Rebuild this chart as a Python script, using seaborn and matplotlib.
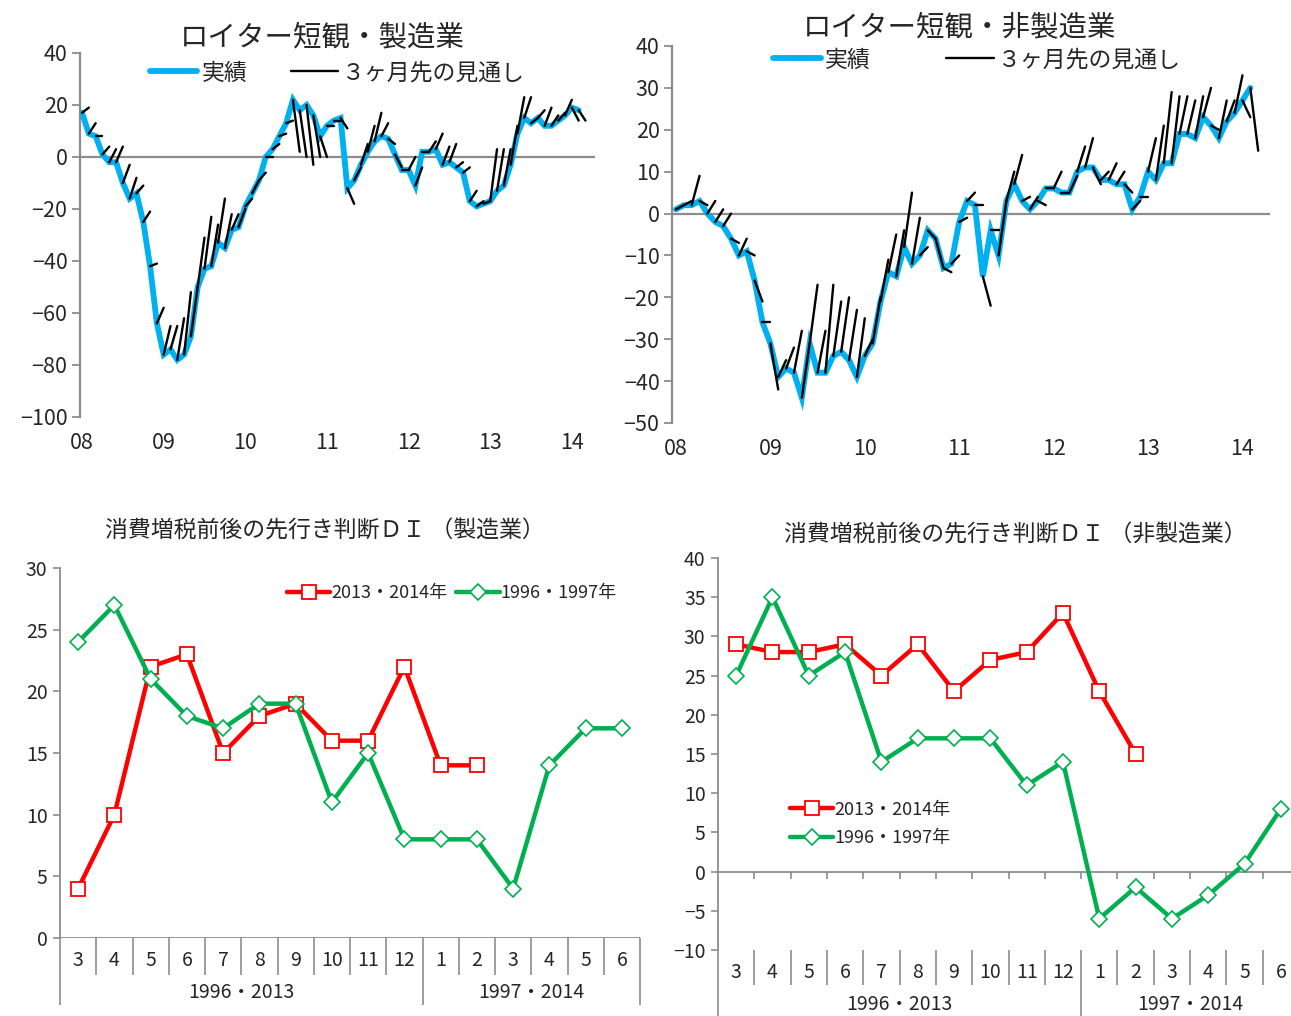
import numpy as np
import pandas as pd
import matplotlib
matplotlib.use("Agg")
import matplotlib.pyplot as plt
from matplotlib.lines import Line2D
from matplotlib import font_manager
import seaborn as sns

# ---------------- data ----------------
year_labels = ["08", "09", "10", "11", "12", "13", "14"]

mfg_actual = [17, 9, 8, 1, -2, -2, -10, -16, -14, -25, -42, -64,
              -76, -74, -78, -76, -69, -50, -43, -42, -33, -35, -28, -27,
              -19, -14, -9, 0, 3, 8, 13, 22, 18, 20, 16, 8,
              12, 14, 15, -12, -9, -3, 2, 6, 8, 7, 1, -5,
              -5, -11, 2, 2, 3, -3, -2, -4, -6, -17, -19, -18,
              -17, -13, -11, -3, 9, 15, 13, 15, 12, 12, 14, 16,
              19, 18]
mfg_outlook = [19, 13, 8, 4, 3, 4, -3, -8, -11, -21, -41, -58,
               -65, -65, -62, -52, -50, -31, -23, -26, -16, -22, -22, -20,
               -16, -9, -6, 0, 5, 9, 14, 2, 0, -3, 0, 0,
               12, 14, 11, -18, -4, 5, 12, 17, 13, 5, -4, -5,
               0, -4, 2, 6, 9, 4, 5, -2, -4, -13, -17, -17,
               3, 3, 3, 12, 23, 23, 15, 18, 19, 16, 17, 22,
               14, 14]

nonmfg_actual = [1, 2, 2, 3, 0, -2, -3, -6, -10, -9, -16, -26,
                 -31, -39, -37, -38, -44, -31, -38, -38, -34, -33, -35, -39,
                 -34, -31, -21, -14, -15, -8, -12, -10, -4, -6, -13, -12,
                 -2, 3, 2, -15, -4, -10, 3, 7, 3, 1, 3, 6,
                 6, 5, 5, 10, 11, 11, 8, 8, 7, 7, 1, 4,
                 10, 8, 12, 12, 19, 19, 18, 23, 21, 18, 22, 24,
                 27, 30]
nonmfg_outlook = [2, 3, 9, 2, 3, 1, 0, -7, -6, -10, -21, -26,
                  -42, -35, -32, -28, -31, -17, -28, -17, -21, -20, -23, -25,
                  -30, -20, -11, -5, -4, 5, -1, -8, -6, -13, -14, -10,
                  -1, 5, 2, -22, -4, 3, 10, 14, 4, 4, 2, 6,
                  10, 5, 9, 16, 18, 7, 10, 12, 10, 5, 3, 4,
                  18, 21, 29, 28, 28, 27, 28, 30, 20, 27, 27, 33,
                  23, 15]

month_labels = ["3", "4", "5", "6", "7", "8", "9", "10", "11", "12",
                "1", "2", "3", "4", "5", "6"]
group_labels = ["1996・2013", "1997・2014"]
group_sizes = [10, 6]
series_names = ["2013・2014年", "1996・1997年"]

mfg_2013 = [4, 10, 22, 23, 15, 18, 19, 16, 16, 22, 14, 14,
            None, None, None, None]
mfg_1996 = [24, 27, 21, 18, 17, 19, 19, 11, 15, 8, 8, 8, 4, 14, 17, 17]
non_2013 = [29, 28, 28, 29, 25, 29, 23, 27, 28, 33, 23, 15,
            None, None, None, None]
non_1996 = [25, 35, 25, 28, 14, 17, 17, 17, 11, 14, -6, -2, -6, -3, 1, 8]

# ---------------- style ----------------
sns.set_theme(style="white")
names = {f.name for f in font_manager.fontManager.ttflist}
CJK = "Noto Sans CJK JP"
narrow = None
for cand in ["Liberation Sans Narrow", "DejaVu Sans Condensed"]:
    if cand in names:
        narrow = cand
        break
plt.rcParams["font.family"] = [CJK, "DejaVu Sans"]
NARROW_FAM = [narrow, CJK] if narrow else [CJK]

BLUE = "#00B0F0"
RED = "#FF0000"
GREEN = "#00B050"
GRAY = "#8C8C8C"

W, H = 1291, 1016
fig = plt.figure(figsize=(W / 100, H / 100), dpi=100)


def px_axes(l, t, r, b):
    return fig.add_axes([l / W, 1 - b / H, (r - l) / W, (b - t) / H])


def top_chart(ax, actual, outlook, ylim, ystep):
    actual = np.asarray(actual, float)
    outlook = np.asarray(outlook, float)
    n = len(actual)
    months = np.arange(n)
    df = pd.DataFrame({"m": months, "v": actual})
    seg = pd.DataFrame({
        "m": np.concatenate([months, months + 1]),
        "v": np.concatenate([actual, outlook]),
        "seg": np.concatenate([months, months]),
    })
    ax.axhline(0, color=GRAY, lw=1.6, zorder=1)
    sns.lineplot(data=df, x="m", y="v", color=BLUE, lw=4.2, ax=ax,
                 zorder=3, solid_joinstyle="miter")
    sns.lineplot(data=seg, x="m", y="v", units="seg", estimator=None,
                 color="black", lw=1.7, ax=ax, zorder=4, legend=False,
                 sort=False)
    ax.set_ylim(*ylim)
    ax.set_yticks(np.arange(ylim[0], ylim[1] + 1, ystep))
    ax.set_xticks(np.arange(len(year_labels)) * 12)
    ax.set_xticklabels(year_labels)
    ax.set_xlabel("")
    ax.set_ylabel("")
    for s in ["top", "right", "bottom"]:
        ax.spines[s].set_visible(False)
    ax.spines["left"].set_color(GRAY)
    ax.spines["left"].set_linewidth(1.6)
    ax.tick_params(axis="y", direction="out", length=6, width=1.3,
                   color=GRAY, labelsize=15.5, pad=3, left=True)
    ax.tick_params(axis="x", length=0, labelsize=15.5, pad=11)


# ---- top-left
ax1 = px_axes(80, 53, 595, 417)
top_chart(ax1, mfg_actual, mfg_outlook, (-100, 40), 20)
ax1.set_xlim(-0.3, 75.4)

# ---- top-right
ax2 = px_axes(672, 46, 1270, 423)
top_chart(ax2, nonmfg_actual, nonmfg_outlook, (-50, 40), 10)
ax2.set_xlim(-0.5, 75.5)

fig.text(322 / W, 1 - 37 / H, "ロイター短観・製造業", ha="center", va="center",
         fontsize=20.5)
fig.text(960 / W, 1 - 27 / H, "ロイター短観・非製造業", ha="center", va="center",
         fontsize=20.5)

top_handles = [Line2D([], [], color=BLUE, lw=4.2),
               Line2D([], [], color="black", lw=1.7)]
top_texts = ["実績", "３ヶ月先の見通し"]
fig.legend(top_handles, top_texts, loc="center left",
           bbox_to_anchor=(150 / W, 1 - 73 / H), ncol=2, frameon=False,
           fontsize=16.5, handlelength=2.05, handletextpad=0.2,
           columnspacing=1.9, borderpad=0, borderaxespad=0)
fig.legend(top_handles, top_texts, loc="center left",
           bbox_to_anchor=(773 / W, 1 - 60 / H), ncol=2, frameon=False,
           fontsize=16.5, handlelength=2.1, handletextpad=0.15,
           columnspacing=3.3, borderpad=0, borderaxespad=0)


# ---------------- bottom charts ----------------
def bottom_chart(ax, s2013, s1996, ylim, zero_axis, lab_off, sep_short,
                 sep_long, grp_off):
    x = np.arange(len(month_labels))
    d1 = pd.DataFrame({"i": x, "v": pd.array(s2013, dtype="Float64").astype(float)})
    d2 = pd.DataFrame({"i": x, "v": np.asarray(s1996, float)})
    sns.lineplot(data=d1, x="i", y="v", color=RED, lw=3.2, marker="s",
                 markersize=10, markerfacecolor="white", markeredgecolor=RED,
                 markeredgewidth=1.3, ax=ax, label=series_names[0], zorder=3,
                 legend=False)
    sns.lineplot(data=d2, x="i", y="v", color=GREEN, lw=3.2, marker="D",
                 markersize=8, markerfacecolor="white", markeredgecolor=GREEN,
                 markeredgewidth=1.2, ax=ax, label=series_names[1], zorder=4,
                 legend=False)
    ax.set_xlim(-0.5, len(x) - 0.5)
    ax.set_ylim(*ylim)
    ax.set_yticks(np.arange(ylim[0], ylim[1] + 1, 5))
    ax.set_xlabel("")
    ax.set_ylabel("")
    for s in ["top", "right", "bottom"]:
        ax.spines[s].set_visible(False)
    ax.spines["left"].set_color(GRAY)
    ax.spines["left"].set_linewidth(1.3)
    ax.tick_params(axis="y", direction="out", length=5, width=1.2,
                   color=GRAY, labelsize=14, pad=4, left=True)
    for lab in ax.get_yticklabels():
        lab.set_family(NARROW_FAM)
    ax.set_xticks(x)
    ax.set_xticklabels(month_labels, family=NARROW_FAM)
    ax.tick_params(axis="x", length=0, labelsize=14, pad=lab_off)

    bounds = np.arange(len(x) + 1) - 0.5
    cum = np.cumsum([0] + group_sizes)
    long_b = bounds[cum]
    short_b = np.setdiff1d(bounds, long_b)
    tr = ax.get_xaxis_transform()
    if zero_axis:
        ax.axhline(0, color=GRAY, lw=1.3, zorder=1)
        ax.vlines(bounds[1:], -0.9, 0, color=GRAY, lw=1.2)
    else:
        ax.axhline(ylim[0], color=GRAY, lw=1.3, zorder=1)
    ax.vlines(short_b, sep_short, 0, transform=tr, color=GRAY, lw=1.2,
              clip_on=False)
    ax.vlines(long_b, sep_long, 0, transform=tr, color=GRAY, lw=1.2,
              clip_on=False)
    for g, lab in enumerate(group_labels):
        ax.text((long_b[g] + long_b[g + 1]) / 2, grp_off, lab, transform=tr,
                ha="center", va="center", fontsize=14, family=NARROW_FAM)


ax3 = px_axes(60, 568, 640, 938)
bottom_chart(ax3, mfg_2013, mfg_1996, (0, 30), False, 9,
             -37 / 370, -67 / 370, -55 / 370)

ax4 = px_axes(718, 558, 1299, 950)
bottom_chart(ax4, non_2013, non_1996, (-10, 40), True, 9,
             -35 / 392, -70 / 392, -55 / 392)

fig.text(325 / W, 1 - 531 / H, "消費増税前後の先行き判断ＤＩ （製造業）",
         ha="center", va="center", fontsize=16.5)
fig.text(1015 / W, 1 - 535 / H, "消費増税前後の先行き判断ＤＩ （非製造業）",
         ha="center", va="center", fontsize=16.5)

bot_handles = [
    Line2D([], [], color=RED, lw=3.2, marker="s", markersize=10,
           markerfacecolor="white", markeredgecolor=RED, markeredgewidth=1.3),
    Line2D([], [], color=GREEN, lw=3.2, marker="D", markersize=8,
           markerfacecolor="white", markeredgecolor=GREEN, markeredgewidth=1.2),
]
fig.legend(bot_handles, series_names, loc="center left",
           bbox_to_anchor=(287 / W, 1 - 593 / H), ncol=2, frameon=False,
           prop={"family": NARROW_FAM, "size": 13}, handlelength=2.4,
           handletextpad=0.05, columnspacing=0.5, borderpad=0,
           borderaxespad=0)
fig.legend(bot_handles, series_names, loc="center left",
           bbox_to_anchor=(790 / W, 1 - 824 / H), ncol=1, frameon=False,
           prop={"family": NARROW_FAM, "size": 13}, handlelength=2.4,
           handletextpad=0.05, labelspacing=0.6, borderpad=0,
           borderaxespad=0)

fig.savefig("out.png", dpi=100)
